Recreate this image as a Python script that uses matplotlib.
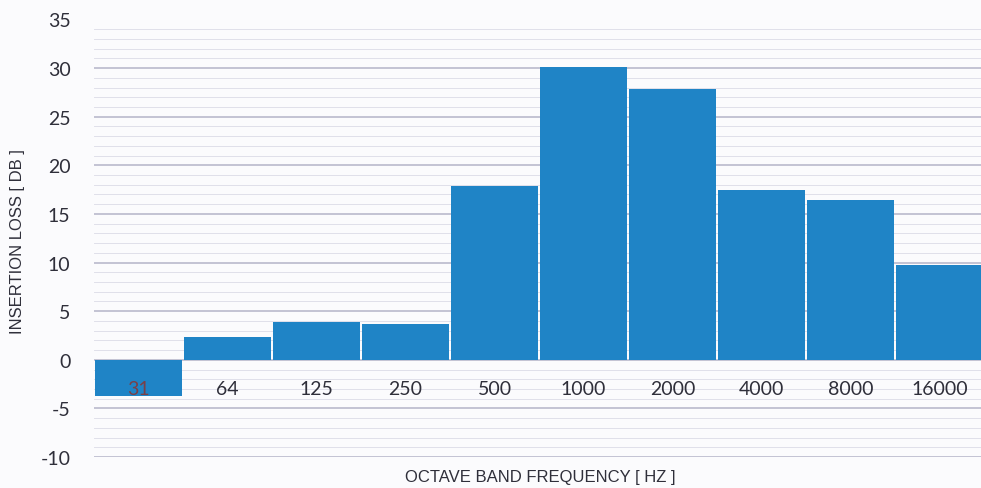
import matplotlib.pyplot as plt
from matplotlib.ticker import MultipleLocator

# data
bands = ['31', '64', '125', '250', '500', '1000', '2000', '4000', '8000', '16000']
loss = [-3.7, 2.3, 3.9, 3.7, 17.9, 30.1, 27.9, 17.5, 16.4, 9.8]
yticks = [-10, -5, 0, 5, 10, 15, 20, 25, 30, 35]

bar_col = '#1f84c6'
txt_col = '#2f2f3a'

fig = plt.figure(figsize=(9.81, 4.89), dpi=100)
fig.patch.set_facecolor('#fbfbfd')
ax = fig.add_axes([94/981, 31/489, 890/981, 437.5/489])
ax.set_facecolor('#fbfbfd')

x = list(range(len(bands)))
ax.bar(x, loss, width=0.98, color=bar_col, edgecolor='none', zorder=3)

ax.set_xlim(-0.5, len(bands) - 0.5)
ax.set_ylim(-10, 35)
ax.yaxis.set_major_locator(MultipleLocator(5))
ax.yaxis.set_minor_locator(MultipleLocator(1))
ax.set_yticks(yticks)
ax.set_yticklabels([str(v) for v in yticks], family='Lato', fontsize=14, color=txt_col)
ax.tick_params(axis='y', which='both', length=0, pad=17)
ax.grid(axis='y', which='major', color='#b4b4c8', lw=1.1, zorder=0)
ax.grid(axis='y', which='minor', color='#e0e0ea', lw=0.7, zorder=0)
ax.set_xticks([])
for s in ax.spines.values():
    s.set_visible(False)

# category labels sit just under the zero line, like the original
for i, b in enumerate(bands):
    c = '#7a4048' if loss[i] < 0 else txt_col
    ax.text(i, -3.0, b, ha='center', va='center', family='Lato',
            fontsize=14, color=c, zorder=4)

fig.text(540/981, 1 - 478/489, 'OCTAVE BAND FREQUENCY [ HZ ]', ha='center', va='center',
         family='Liberation Sans', fontsize=12, color=txt_col)
fig.text(18/981, 1 - 242/489, 'INSERTION LOSS [ DB ]', ha='center', va='center',
         rotation=90, family='Liberation Sans', fontsize=12, color=txt_col)

fig.savefig('out.png', dpi=100, facecolor=fig.get_facecolor())
